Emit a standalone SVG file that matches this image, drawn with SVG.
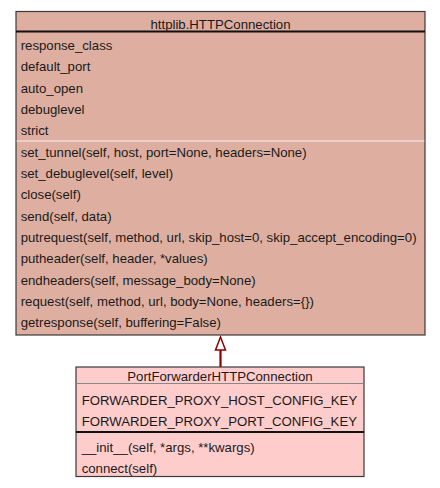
<svg xmlns="http://www.w3.org/2000/svg" width="440" height="488" viewBox="0 0 440 488">
<style>
text{font-family:"Liberation Sans",Arial,sans-serif;font-size:13.2px;fill:#1a1a1a}
.c{text-anchor:middle}
.box{stroke:#3a3a3a;stroke-width:1.2}
.thick{stroke:#111;stroke-width:2.2}
.thin{stroke:#f4f0ee;stroke-width:1}
.thinb{stroke:#888;stroke-width:1}
</style>
<rect width="440" height="488" fill="#fff"/>
<g id="connectors">
<line x1="220.5" y1="350" x2="220.5" y2="367" stroke="#8b0000" stroke-width="2.2"/>
<polygon points="220.5,337 215.5,350 225.5,350" fill="#fff" stroke="#8b0000" stroke-width="1.5"/>
</g>
<g id="httplib.HTTPConnection">
<rect class="box" x="16" y="11.5" width="409" height="323.5" fill="#deafa0"/>
<line class="thick" x1="16" y1="31.5" x2="425" y2="31.5"/>
<line class="thin" x1="16.6" y1="141" x2="424.4" y2="141"/>
<text class="c" x="220.5" y="28.7">httplib.HTTPConnection</text>
<text x="20.7" y="50">response_class</text>
<text x="20.7" y="71.3">default_port</text>
<text x="20.7" y="92.6">auto_open</text>
<text x="20.7" y="113.9">debuglevel</text>
<text x="20.7" y="135.2">strict</text>
<text x="20.7" y="156.7">set_tunnel(self, host, port=None, headers=None)</text>
<text x="20.7" y="178">set_debuglevel(self, level)</text>
<text x="20.7" y="199.3">close(self)</text>
<text x="20.7" y="220.6">send(self, data)</text>
<text x="20.7" y="241.9">putrequest(self, method, url, skip_host=0, skip_accept_encoding=0)</text>
<text x="20.7" y="263.2">putheader(self, header, *values)</text>
<text x="20.7" y="284.5">endheaders(self, message_body=None)</text>
<text x="20.7" y="305.8">request(self, method, url, body=None, headers={})</text>
<text x="20.7" y="327.1">getresponse(self, buffering=False)</text>
</g>
<g id="PortForwarderHTTPConnection">
<rect class="box" x="76" y="367" width="288" height="109.5" fill="#ffcccc"/>
<line class="thinb" x1="76.6" y1="383.5" x2="363.4" y2="383.5"/>
<line class="thick" x1="76" y1="432" x2="364" y2="432"/>
<text class="c" x="220" y="381">PortForwarderHTTPConnection</text>
<text x="81.7" y="404.7">FORWARDER_PROXY_HOST_CONFIG_KEY</text>
<text x="81.7" y="426">FORWARDER_PROXY_PORT_CONFIG_KEY</text>
<text x="81.7" y="451.5">__init__(self, *args, **kwargs)</text>
<text x="81.7" y="472.8">connect(self)</text>
</g>
</svg>
